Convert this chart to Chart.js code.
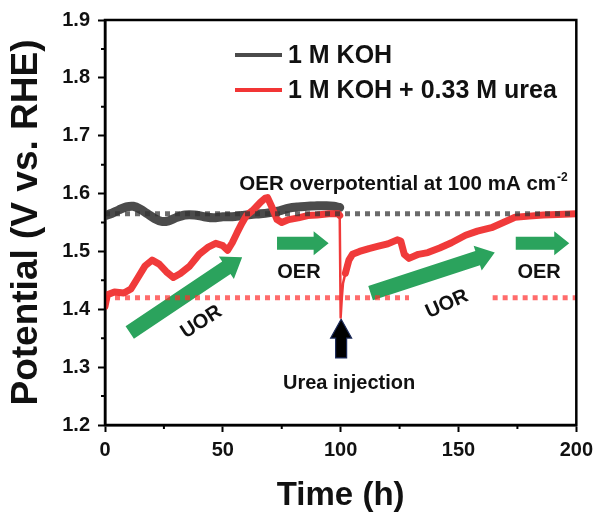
<!DOCTYPE html>
<html>
<head>
<meta charset="utf-8">
<script src="https://cdn.jsdelivr.net/npm/chart.js@4.4.0/dist/chart.umd.min.js"></script>
<style>
  body { margin: 0; background: #fff; }
  #wrap { width: 599px; height: 512px; }
</style>
</head>
<body>
<div id="wrap"><canvas id="chart" width="599" height="512"></canvas></div>
<script>
// Values
const seriesLabels = ['1 M KOH', '1 M KOH + 0.33 M urea'];

const kohTime = [0, 3, 6, 9, 12, 15, 18, 21, 24, 27, 30, 34, 38, 42, 46, 50, 54, 58, 62, 66, 70, 74, 78, 82, 86, 90, 94, 97, 99.6];
const kohPot = [1.562, 1.566, 1.572, 1.577, 1.578, 1.573, 1.565, 1.557, 1.552, 1.553, 1.558, 1.563, 1.563, 1.560, 1.558, 1.560, 1.560, 1.562, 1.564, 1.565, 1.567, 1.570, 1.575, 1.577, 1.578, 1.579, 1.579, 1.578, 1.576];

const ureaTime = [0, 1, 4, 8, 11, 14, 17, 20, 23, 26, 29, 32, 36, 40, 44, 47, 50, 52, 54, 56, 58, 60, 63, 66, 68, 69, 71, 73, 75, 78, 82, 86, 90, 95, 99, 99.6,
                  100, 100.5, 101, 102, 103.5, 105, 108, 112, 116, 120, 124, 125.5, 127, 129, 133, 137, 142, 147, 153, 158, 164, 169, 174, 180, 186, 192, 200];
const ureaPot = [1.405, 1.425, 1.430, 1.428, 1.435, 1.455, 1.475, 1.485, 1.478, 1.465, 1.455, 1.462, 1.475, 1.495, 1.508, 1.514, 1.510, 1.502, 1.515, 1.532, 1.548, 1.562, 1.572, 1.585, 1.592, 1.593, 1.575, 1.555, 1.550, 1.555, 1.558, 1.562, 1.563, 1.565, 1.565, 1.562,
                 1.386, 1.420, 1.445, 1.462, 1.485, 1.495, 1.500, 1.505, 1.509, 1.513, 1.520, 1.518, 1.495, 1.488, 1.495, 1.498, 1.506, 1.515, 1.528, 1.535, 1.541, 1.550, 1.559, 1.561, 1.563, 1.564, 1.565];

// dotted guide lines (OER level and UOR level)
const oerRefTime = [0, 200];
const oerRefPot = [1.565, 1.565];
const uorRefTime = [0, 129, 146, 164.5, 200];
const uorRefPot = [1.42, 1.42, null, 1.42, 1.42];

const xTicks = [0, 50, 100, 150, 200];
const yTicks = [1.2, 1.3, 1.4, 1.5, 1.6, 1.7, 1.8, 1.9];
const xMinor = [25, 75, 125, 175];
const yMinor = [1.25, 1.35, 1.45, 1.55, 1.65, 1.75, 1.85];

const FONT = "'Liberation Sans', Arial, sans-serif";
const GREEN = '#2ba35d';

// arrows and labels, placed in data coordinates
const arrows = [
  { from: [10.5, 1.360], to: [58.2, 1.490], shaft: 15, head: 27, headLen: 19, color: GREEN },
  { from: [73.0, 1.514], to: [94.9, 1.514], shaft: 13, head: 24, headLen: 15, color: GREEN },
  { from: [112.7, 1.428], to: [165.4, 1.498], shaft: 15, head: 26, headLen: 18, color: GREEN },
  { from: [174.3, 1.514], to: [197.0, 1.514], shaft: 13, head: 24, headLen: 15, color: GREEN },
  { from: [100.2, 1.316], to: [100.2, 1.383], shaft: 11, head: 21, headLen: 19, color: '#000', stroke: '#1c2b5a' }
];

const labels = [
  { text: 'OER', x: 82.3, y: 1.463, rot: 0, size: 20 },
  { text: 'OER', x: 184.2, y: 1.463, rot: 0, size: 20 },
  { text: 'UOR', x: 40.9, y: 1.378, rot: -33, size: 20 },
  { text: 'UOR', x: 145.1, y: 1.409, rot: -24, size: 20 },
  { text: 'Urea injection', x: 103.6, y: 1.272, rot: 0, size: 20 }
];

function toPoints(times, values) {
  return times.map((t, i) => ({ x: t, y: values[i] }));
}

function drawArrow(ctx, x0, y0, x1, y1, a) {
  const ang = Math.atan2(y1 - y0, x1 - x0);
  const len = Math.hypot(x1 - x0, y1 - y0);
  ctx.save();
  ctx.translate(x0, y0);
  ctx.rotate(ang);
  ctx.beginPath();
  ctx.moveTo(0, -a.shaft / 2);
  ctx.lineTo(len - a.headLen, -a.shaft / 2);
  ctx.lineTo(len - a.headLen, -a.head / 2);
  ctx.lineTo(len, 0);
  ctx.lineTo(len - a.headLen, a.head / 2);
  ctx.lineTo(len - a.headLen, a.shaft / 2);
  ctx.lineTo(0, a.shaft / 2);
  ctx.closePath();
  ctx.fillStyle = a.color;
  ctx.fill();
  if (a.stroke) {
    ctx.strokeStyle = a.stroke;
    ctx.lineWidth = 1.2;
    ctx.stroke();
  }
  ctx.restore();
}

const decorations = {
  id: 'decorations',
  beforeDatasetsDraw(chart) {
    const { ctx, scales: { x, y } } = chart;
    arrows.forEach(a => {
      drawArrow(ctx, x.getPixelForValue(a.from[0]), y.getPixelForValue(a.from[1]),
        x.getPixelForValue(a.to[0]), y.getPixelForValue(a.to[1]), a);
    });
  },
  afterDraw(chart) {
    const { ctx, chartArea: area, scales: { x, y } } = chart;
    ctx.save();

    // box around the plot
    ctx.strokeStyle = '#000';
    ctx.lineWidth = 2.5;
    ctx.strokeRect(area.left, area.top, area.right - area.left, area.bottom - area.top);

    // minor ticks
    ctx.lineWidth = 2;
    ctx.beginPath();
    xMinor.forEach(v => {
      const px = x.getPixelForValue(v);
      ctx.moveTo(px, area.bottom);
      ctx.lineTo(px, area.bottom + 4);
    });
    yMinor.forEach(v => {
      const py = y.getPixelForValue(v);
      ctx.moveTo(area.left, py);
      ctx.lineTo(area.left - 4, py);
    });
    ctx.stroke();

    // legend
    const legendX = 235, legendY = [55, 90];
    chart.data.datasets.slice(0, 2).forEach((ds, i) => {
      ctx.strokeStyle = ds.legendColor;
      ctx.lineWidth = 4;
      ctx.beginPath();
      ctx.moveTo(legendX, legendY[i]);
      ctx.lineTo(legendX + 47, legendY[i]);
      ctx.stroke();
      ctx.fillStyle = '#111';
      ctx.font = 'bold 25px ' + FONT;
      ctx.textAlign = 'left';
      ctx.textBaseline = 'middle';
      ctx.fillText(ds.label, legendX + 53, legendY[i] + 1);
    });

    // OER overpotential note with superscript
    ctx.fillStyle = '#111';
    ctx.textBaseline = 'middle';
    ctx.textAlign = 'left';
    ctx.font = 'bold 20.5px ' + FONT;
    const noteX = x.getPixelForValue(57.0), noteY = y.getPixelForValue(1.616);
    const main = 'OER overpotential at 100 mA cm';
    ctx.fillText(main, noteX, noteY);
    const w = ctx.measureText(main).width;
    ctx.font = 'bold 12px ' + FONT;
    ctx.fillText('-2', noteX + w + 1, noteY - 7);

    // other labels
    ctx.textAlign = 'center';
    labels.forEach(l => {
      ctx.save();
      ctx.translate(x.getPixelForValue(l.x), y.getPixelForValue(l.y));
      ctx.rotate(l.rot * Math.PI / 180);
      ctx.font = 'bold ' + l.size + 'px ' + FONT;
      ctx.fillStyle = '#111';
      ctx.fillText(l.text, 0, 0);
      ctx.restore();
    });
    ctx.restore();
  }
};

const ctx = document.getElementById('chart').getContext('2d');
new Chart(ctx, {
  type: 'line',
  data: {
    datasets: [
      {
        label: seriesLabels[0],
        data: toPoints(kohTime, kohPot),
        borderColor: '#4b4b4b',
        legendColor: '#4b4b4b',
        borderWidth: 9,
        pointRadius: 0,
        tension: 0.3,
        borderJoinStyle: 'round',
        borderCapStyle: 'round',
        order: 3
      },
      {
        label: seriesLabels[1],
        data: toPoints(ureaTime, ureaPot),
        borderColor: '#f03a3a',
        legendColor: '#f23535',
        borderWidth: 7,
        pointRadius: 0,
        tension: 0,
        borderJoinStyle: 'round',
        borderCapStyle: 'round',
        segment: {
          borderWidth: c => (c.p0.parsed.x >= 99.5 && c.p1.parsed.x <= 102) ? 2.5 : 7
        },
        order: 2
      },
      {
        label: 'OER level',
        data: toPoints(oerRefTime, oerRefPot),
        borderColor: 'rgba(50,50,50,0.72)',
        borderWidth: 5,
        borderDash: [5, 5],
        pointRadius: 0,
        order: 1
      },
      {
        label: 'UOR level',
        data: toPoints(uorRefTime, uorRefPot),
        borderColor: 'rgba(255,45,45,0.7)',
        borderWidth: 5,
        borderDash: [5, 5],
        pointRadius: 0,
        spanGaps: false,
        order: 0
      }
    ]
  },
  options: {
    responsive: false,
    animation: false,
    events: [],
    layout: { padding: { top: 19, right: 19, left: 0, bottom: 0 } },
    plugins: { legend: { display: false }, tooltip: { enabled: false } },
    scales: {
      x: {
        type: 'linear',
        min: 0,
        max: 200,
        afterBuildTicks: s => { s.ticks = xTicks.map(v => ({ value: v })); },
        afterFit: s => { s.height = 87; },
        ticks: {
          font: { family: FONT, size: 20, weight: 'bold' },
          color: '#111',
          padding: 6,
          maxRotation: 0
        },
        grid: { drawOnChartArea: false, drawTicks: true, tickLength: 7, tickWidth: 2, tickColor: '#000' },
        border: { display: true, color: '#000', width: 2.5 },
        title: {
          display: true,
          text: 'Time (h)',
          color: '#111',
          font: { family: FONT, size: 33, weight: 'bold', lineHeight: 1 },
          padding: { top: 0, bottom: 0 }
        }
      },
      y: {
        min: 1.2,
        max: 1.9,
        afterBuildTicks: s => { s.ticks = yTicks.map(v => ({ value: v })); },
        afterFit: s => { s.width = 105; },
        ticks: {
          font: { family: FONT, size: 20, weight: 'bold' },
          color: '#111',
          padding: 8,
          callback: v => v.toFixed(1)
        },
        grid: { drawOnChartArea: false, drawTicks: true, tickLength: 7, tickWidth: 2, tickColor: '#000' },
        border: { display: true, color: '#000', width: 2.5 },
        title: {
          display: true,
          text: 'Potential (V vs. RHE)',
          color: '#111',
          font: { family: FONT, size: 37, weight: 'bold', lineHeight: 1 },
          padding: { top: 8, bottom: 0 }
        }
      }
    }
  },
  plugins: [decorations]
});
</script>
</body>
</html>
